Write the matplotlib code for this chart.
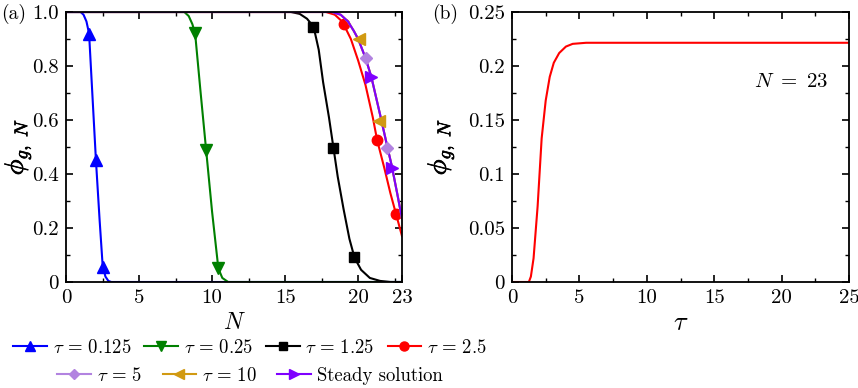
import matplotlib
matplotlib.use("Agg")
import matplotlib.pyplot as plt
import matplotlib.patheffects as pe
from matplotlib.ticker import MultipleLocator
from matplotlib.lines import Line2D

plt.rcParams['font.family'] = 'serif'
plt.rcParams['font.serif'] = ['cmr10', 'DejaVu Serif']
plt.rcParams['mathtext.fontset'] = 'cm'
plt.rcParams['axes.unicode_minus'] = False

# ---------------- data: panel (a) ----------------
N_t0125 = [0, 1.0, 1.2, 1.4, 1.58, 1.8, 2.05, 2.3, 2.51, 2.7, 2.9, 3.1, 23]
P_t0125 = [1.0, 1.0, 0.99, 0.965, 0.92, 0.70, 0.45, 0.23, 0.06, 0.02, 0.004, 0.0, 0.0]
Nm_t0125 = [1.58, 2.05, 2.51]
Pm_t0125 = [0.917, 0.452, 0.057]

N_t025 = [0, 8.1, 8.4, 8.65, 8.84, 9.2, 9.59, 10.0, 10.43, 10.7, 11.1, 23]
P_t025 = [1.0, 1.0, 0.985, 0.955, 0.92, 0.71, 0.49, 0.26, 0.05, 0.015, 0.0, 0.0]
Nm_t025 = [8.84, 9.59, 10.43]
Pm_t025 = [0.921, 0.489, 0.051]

N_t125 = [0, 15.4, 16.0, 16.5, 16.95, 17.3, 17.6, 18.0, 18.3, 18.6, 19.0, 19.4, 19.75, 20.2, 20.8, 21.5, 22.2, 23]
P_t125 = [1.0, 1.0, 0.993, 0.975, 0.945, 0.86, 0.74, 0.61, 0.50, 0.39, 0.27, 0.16, 0.09, 0.045, 0.015, 0.004, 0.0, 0.0]
Nm_t125 = [16.94, 18.31, 19.73]
Pm_t125 = [0.943, 0.495, 0.091]

N_t25 = [0, 17.8, 18.4, 18.8, 19.0, 19.5, 20.0, 20.5, 21.0, 21.3, 21.8, 22.2, 22.6, 23.0]
P_t25 = [1.0, 1.0, 0.99, 0.97, 0.955, 0.90, 0.82, 0.73, 0.61, 0.525, 0.42, 0.33, 0.25, 0.17]
Nm_t25 = [19.03, 21.27, 22.56]
Pm_t25 = [0.954, 0.526, 0.252]

N_steady = [0, 18.2, 18.8, 19.3, 19.7, 20.0, 20.5, 20.9, 21.5, 22.0, 22.3, 22.7, 23.0]
P_steady = [1.0, 1.0, 0.99, 0.965, 0.93, 0.90, 0.83, 0.76, 0.62, 0.50, 0.43, 0.32, 0.235]
Nm_t5 = [20.53, 22.0]
Pm_t5 = [0.83, 0.495]
Nm_t10 = [20.03, 21.45]
Pm_t10 = [0.90, 0.596]
Nm_steady = [20.88, 22.3]
Pm_steady = [0.76, 0.422]

# ---------------- data: panel (b) ----------------
tau_b = [0, 1.0, 1.25, 1.4, 1.6, 1.9, 2.2, 2.5, 2.8, 3.1, 3.5, 4.0, 4.5, 5.5, 25]
phi_b = [0, 0, 0.0, 0.005, 0.022, 0.07, 0.133, 0.168, 0.19, 0.203, 0.212, 0.218, 0.2205, 0.2215, 0.2215]

xticks_a = [0, 5, 10, 15, 20, 23]
xticklabels_a = ['0', '5', '10', '15', '20', '23']
yticks_a = [0, 0.2, 0.4, 0.6, 0.8, 1.0]
yticklabels_a = ['0', '0.2', '0.4', '0.6', '0.8', '1.0']
xticks_b = [0, 5, 10, 15, 20, 25]
xticklabels_b = ['0', '5', '10', '15', '20', '25']
yticks_b = [0, 0.05, 0.1, 0.15, 0.2, 0.25]
yticklabels_b = ['0', '0.05', '0.1', '0.15', '0.2', '0.25']

labels = [r'$\tau\,=\,0.125$', r'$\tau\,=\,0.25$', r'$\tau\,=\,1.25$', r'$\tau\,=\,2.5$',
          r'$\tau\,=\,5$', r'$\tau\,=\,10$', 'Steady solution']

c_blue = '#0000ff'
c_green = '#008000'
c_black = '#000000'
c_red = '#ff0000'
c_lav = '#b283e0'
c_gold = '#d19a12'
c_purp = '#7f00ff'

fig = plt.figure(figsize=(8.58, 3.88), dpi=100)
axa = fig.add_axes([66/858, 106/388, 336/858, 270/388])
axb = fig.add_axes([512/858, 106/388, 337/858, 270/388])

lw = 1.5
axa.plot(N_t0125, P_t0125, color=c_blue, lw=lw)
axa.plot(Nm_t0125, Pm_t0125, '^', color=c_blue, ms=8.5, ls='none')
axa.plot(N_t025, P_t025, color=c_green, lw=lw)
axa.plot(Nm_t025, Pm_t025, 'v', color=c_green, ms=8.5, ls='none')
axa.plot(N_t125, P_t125, color=c_black, lw=lw)
axa.plot(Nm_t125, Pm_t125, 's', color=c_black, ms=6.5, ls='none')
axa.plot(N_t25, P_t25, color=c_red, lw=lw)
axa.plot(Nm_t25, Pm_t25, 'o', color=c_red, ms=7.5, ls='none')
axa.plot(N_steady, P_steady, color=c_lav, lw=lw)
axa.plot(N_steady, P_steady, color=c_gold, lw=lw)
axa.plot(N_steady, P_steady, color=c_purp, lw=lw)
axa.plot(Nm_t5, Pm_t5, 'D', color=c_lav, ms=6.5, ls='none')
axa.plot(Nm_t10, Pm_t10, '<', color=c_gold, ms=8.5, ls='none')
axa.plot(Nm_steady, Pm_steady, '>', color=c_purp, ms=8.5, ls='none')

axa.set_xlim(0, 23)
axa.set_ylim(0, 1.0)
axa.set_xticks(xticks_a)
axa.set_xticklabels(xticklabels_a)
axa.set_yticks(yticks_a)
axa.set_yticklabels(yticklabels_a)
axa.xaxis.set_minor_locator(MultipleLocator(2.5))
axa.yaxis.set_minor_locator(MultipleLocator(0.1))

axb.plot(tau_b, phi_b, color=c_red, lw=lw)
axb.set_xlim(0, 25)
axb.set_ylim(0, 0.25)
axb.set_xticks(xticks_b)
axb.set_xticklabels(xticklabels_b)
axb.set_yticks(yticks_b)
axb.set_yticklabels(yticklabels_b)
axb.xaxis.set_minor_locator(MultipleLocator(2.5))
axb.yaxis.set_minor_locator(MultipleLocator(0.025))
axb.text(20.7, 0.185, r'$N\ =\ 23$', fontsize=15, ha='center', va='center')

for ax in (axa, axb):
    ax.tick_params(which='both', direction='in', top=True, right=True, labelsize=15)
    ax.tick_params(which='major', length=5, width=1.2, pad=5)
    ax.tick_params(which='minor', length=3, width=1.0)
    for s in ax.spines.values():
        s.set_linewidth(1.3)
    ax.set_ylabel(r'$\phi_{g,\ N}$', fontsize=19)
    ax.yaxis.label.set_path_effects([pe.withStroke(linewidth=0.5, foreground='black')])

axa.set_xlabel(r'$N$', fontsize=17)
axb.set_xlabel(r'$\tau$', fontsize=19)
axa.yaxis.set_label_coords(-0.097, 0.5)
axb.yaxis.set_label_coords(-0.165, 0.5)
axa.xaxis.set_label_coords(0.5, -0.11)
axb.xaxis.set_label_coords(0.5, -0.11)

fig.text(1/858, 1 - 14/388, '(a)', fontsize=14, ha='left', va='center')
fig.text(432/858, 1 - 14/388, '(b)', fontsize=14, ha='left', va='center')

def h(color, marker, ms):
    return Line2D([], [], color=color, lw=lw, marker=marker, ms=ms)

handles1 = [h(c_blue, '^', 7.5), h(c_green, 'v', 7.5), h(c_black, 's', 5.5), h(c_red, 'o', 6.5)]
handles2 = [h(c_lav, 'D', 5.5), h(c_gold, '<', 7.5), h(c_purp, '>', 7.5)]
leg1 = fig.legend(handles1, labels[:4], loc='center', bbox_to_anchor=(250/858, 40/388),
                  ncol=4, frameon=False, fontsize=13.5, handlelength=1.8,
                  handletextpad=0.3, columnspacing=0.7, borderaxespad=0)
leg2 = fig.legend(handles2, labels[4:], loc='center', bbox_to_anchor=(250/858, 12/388),
                  ncol=3, frameon=False, fontsize=13.5, handlelength=1.8,
                  handletextpad=0.3, columnspacing=1.1, borderaxespad=0)

fig.savefig('out.png', dpi=100)
